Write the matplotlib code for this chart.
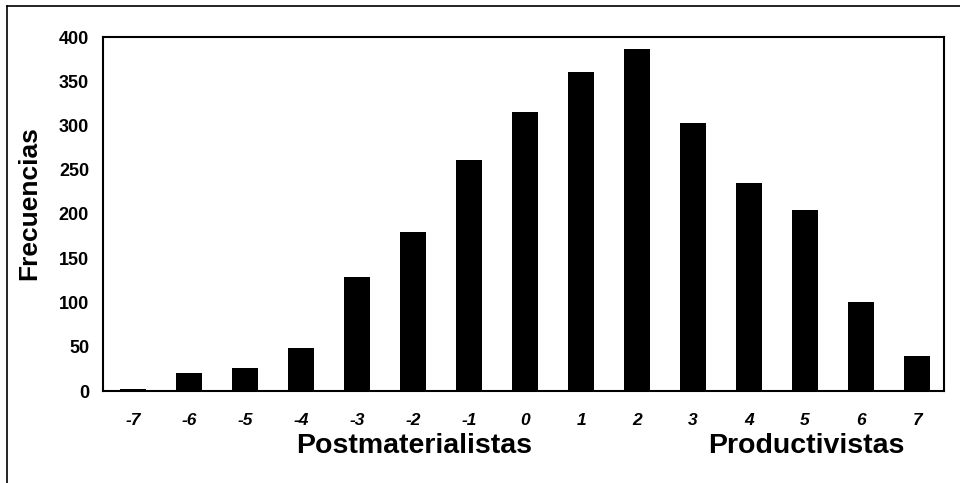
import numpy as np
import matplotlib.pyplot as plt
from matplotlib.lines import Line2D

# Datos
categorias = [-7, -6, -5, -4, -3, -2, -1, 0, 1, 2, 3, 4, 5, 6, 7]
frecuencias = [2, 20, 26, 49, 129, 180, 261, 315, 360, 386, 303, 235, 205, 101, 40]
etiquetas_y = [0, 50, 100, 150, 200, 250, 300, 350, 400]
etiquetas_x = [str(c).replace('\u2212', '-') for c in categorias]

plt.rcParams['font.family'] = ['Liberation Sans', 'DejaVu Sans']

W, H = 960, 483
fig = plt.figure(figsize=(W / 100, H / 100), dpi=100)
ax = fig.add_axes([103 / W, 1 - 391 / H, 841 / W, 354 / H])

ax.bar(categorias, frecuencias, width=0.46, color='black')
ax.set_xlim(-7.54, 7.48)
ax.set_ylim(0, 400)
ax.set_yticks(etiquetas_y)
ax.set_xticks(categorias)
ax.set_xticklabels(etiquetas_x, fontsize=12.5, fontweight='bold', fontstyle='italic')
ax.set_yticklabels([str(v) for v in etiquetas_y], fontsize=13, fontweight='bold')
ax.tick_params(length=0)
ax.tick_params(axis='y', pad=10)
ax.tick_params(axis='x', pad=16)
for s in ax.spines.values():
    s.set_linewidth(1.5)

fig.text(29 / W, 1 - 203 / H, 'Frecuencias', rotation=90, ha='center', va='center',
         fontsize=19, fontweight='bold')

fig.text(414 / W, 1 - 453 / H, 'Postmaterialistas', ha='center', va='baseline',
         fontsize=20.5, fontweight='bold')
fig.text(806 / W, 1 - 453 / H, 'Productivistas', ha='center', va='baseline',
         fontsize=20.5, fontweight='bold')

# Marco exterior (solo lados izquierdo y superior visibles)
fig.add_artist(Line2D([7 / W, 7 / W], [0, 1 - 6 / H], transform=fig.transFigure,
                      color='black', linewidth=1.2))
fig.add_artist(Line2D([7 / W, 1], [1 - 6 / H, 1 - 6 / H], transform=fig.transFigure,
                      color='black', linewidth=1.2))

fig.savefig('out.png', dpi=100)
